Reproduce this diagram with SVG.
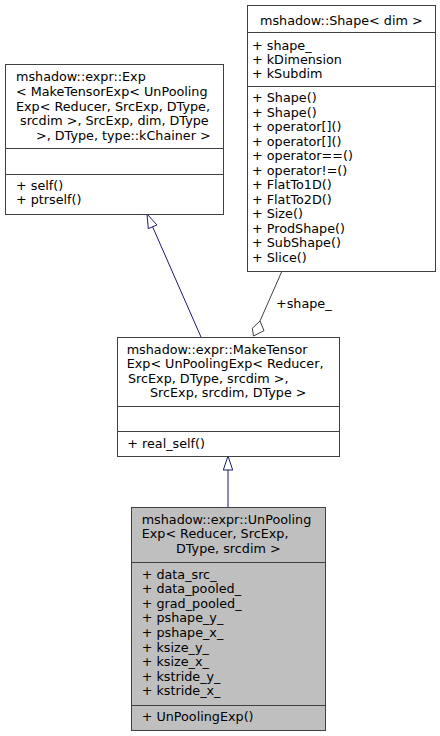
<svg xmlns="http://www.w3.org/2000/svg" width="440" height="736" viewBox="0 0 440 736">
<style>
text{font-family:"DejaVu Sans",sans-serif;font-size:12.75px;fill:#000}
.box{fill:#fff;stroke:#404040;stroke-width:1}
.cur{fill:#bfbfbf;stroke:#404040;stroke-width:1}
.sep{stroke:#404040;stroke-width:1}
.inh{stroke:#191970;stroke-width:1;fill:none}
.inhh{fill:#fff;stroke:#191970;stroke-width:1}
.agg{stroke:#404040;stroke-width:1;fill:none}
.aggh{fill:#fff;stroke:#404040;stroke-width:1}
</style>
<rect width="440" height="736" fill="#fff"/>
<g id="connectors">
<path class="inh" d="M201,337 L152.6,226.8"/>
<polygon class="inhh" points="147,214 148.3,228.7 156.9,224.9"/>
<path class="inh" d="M228,507 L228,470"/>
<polygon class="inhh" points="228,456 223.3,470 232.7,470"/>
<path class="agg" d="M282,271 L260,321"/>
<polygon class="aggh" points="260,321 264,330.7 253.5,336 252.3,328.3"/>
<text x="276" y="308">+shape_</text>
</g>
<g id="node_exp">
<rect class="box" x="5.5" y="64.5" width="218" height="150"/>
<text x="16" y="81">mshadow::expr::Exp</text>
<text x="16" y="96">&lt; MakeTensorExp&lt; UnPooling</text>
<text x="16" y="110.5">Exp&lt; Reducer, SrcExp, DType,</text>
<text x="20" y="125"> srcdim &gt;, SrcExp, dim, DType</text>
<text x="36" y="139.5">&gt;, DType, type::kChainer &gt;</text>
<line class="sep" x1="5.5" y1="148.5" x2="223.5" y2="148.5"/>
<line class="sep" x1="5.5" y1="174.5" x2="223.5" y2="174.5"/>
<text x="16" y="190">+ self()</text>
<text x="16" y="204">+ ptrself()</text>
</g>
<g id="node_shape">
<rect class="box" x="247.5" y="5.5" width="188" height="266"/>
<text x="260" y="24.5">mshadow::Shape&lt; dim &gt;</text>
<line class="sep" x1="247.5" y1="32.5" x2="435.5" y2="32.5"/>
<text x="252" y="50">+ shape_</text>
<text x="252" y="64">+ kDimension</text>
<text x="252" y="78">+ kSubdim</text>
<line class="sep" x1="247.5" y1="86.5" x2="435.5" y2="86.5"/>
<text x="252" y="102">+ Shape()</text>
<text x="252" y="116.5">+ Shape()</text>
<text x="252" y="131">+ operator[]()</text>
<text x="252" y="145.5">+ operator[]()</text>
<text x="252" y="160">+ operator==()</text>
<text x="252" y="174.5">+ operator!=()</text>
<text x="252" y="189">+ FlatTo1D()</text>
<text x="252" y="203.5">+ FlatTo2D()</text>
<text x="252" y="218">+ Size()</text>
<text x="252" y="232.5">+ ProdShape()</text>
<text x="252" y="247">+ SubShape()</text>
<text x="252" y="261.5">+ Slice()</text>
</g>
<g id="node_maketensor">
<rect class="box" x="117.5" y="337.5" width="222" height="119"/>
<text x="126.7" y="353.5">mshadow::expr::MakeTensor</text>
<text x="126.7" y="368">Exp&lt; UnPoolingExp&lt; Reducer,</text>
<text x="128" y="382.5"> SrcExp, DType, srcdim &gt;,</text>
<text x="150" y="397">SrcExp, srcdim, DType &gt;</text>
<line class="sep" x1="117.5" y1="406.5" x2="339.5" y2="406.5"/>
<line class="sep" x1="117.5" y1="431.5" x2="339.5" y2="431.5"/>
<text x="127.3" y="447.5">+ real_self()</text>
</g>
<g id="node_unpooling">
<rect class="cur" x="131.5" y="507.5" width="194" height="223"/>
<text x="141.7" y="523.5">mshadow::expr::UnPooling</text>
<text x="141.7" y="538">Exp&lt; Reducer, SrcExp,</text>
<text x="176" y="552.5">DType, srcdim &gt;</text>
<line class="sep" x1="131.5" y1="562.5" x2="325.5" y2="562.5"/>
<text x="141.7" y="578.5">+ data_src_</text>
<text x="141.7" y="593">+ data_pooled_</text>
<text x="141.7" y="607.7">+ grad_pooled_</text>
<text x="141.7" y="622.3">+ pshape_y_</text>
<text x="141.7" y="637">+ pshape_x_</text>
<text x="141.7" y="651.5">+ ksize_y_</text>
<text x="141.7" y="666">+ ksize_x_</text>
<text x="141.7" y="680.7">+ kstride_y_</text>
<text x="141.7" y="695.3">+ kstride_x_</text>
<line class="sep" x1="131.5" y1="705.5" x2="325.5" y2="705.5"/>
<text x="141.7" y="721">+ UnPoolingExp()</text>
</g>
</svg>
